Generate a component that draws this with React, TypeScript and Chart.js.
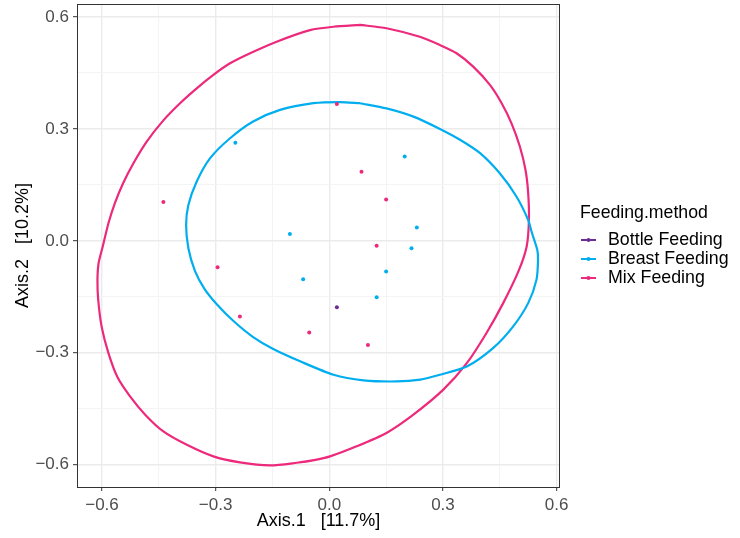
import React, { useEffect, useRef } from "react";
import { Chart, registerables } from "chart.js";

Chart.register(...registerables);

// ---------- data ----------
const groups = ["Bottle Feeding", "Breast Feeding", "Mix Feeding"];
const groupColors = ["#6B2D91", "#00AEEF", "#EC297B"];

const bottleX = [0.02];
const bottleY = [-0.178];

const breastX = [-0.248, -0.104, 0.199, 0.231, 0.217, -0.069, 0.15, 0.125];
const breastY = [0.263, 0.018, 0.226, 0.036, -0.02, -0.103, -0.082, -0.151];

const mixX = [-0.438, -0.295, -0.236, 0.02, 0.085, 0.15, 0.125, -0.053, 0.102];
const mixY = [0.104, -0.071, -0.203, 0.367, 0.185, 0.111, -0.013, -0.246, -0.279];

// ellipse outlines
const breastEllipseX = [0.081, 0.028, -0.042, -0.13, -0.201, -0.262, -0.315, -0.35, -0.372, -0.378, -0.372, -0.355, -0.33, -0.297, -0.253, -0.201, -0.148, -0.077, 0.011, 0.09, 0.178, 0.24, 0.292, 0.363, 0.433, 0.485, 0.525, 0.547, 0.551, 0.549, 0.535, 0.525, 0.494, 0.45, 0.398, 0.345, 0.292, 0.222, 0.151, 0.081];
const breastEllipseY = [0.369, 0.372, 0.369, 0.351, 0.32, 0.275, 0.221, 0.159, 0.096, 0.043, -0.02, -0.08, -0.128, -0.17, -0.215, -0.258, -0.29, -0.323, -0.359, -0.374, -0.377, -0.372, -0.359, -0.337, -0.287, -0.23, -0.167, -0.104, -0.051, -0.024, 0.021, 0.056, 0.119, 0.181, 0.235, 0.271, 0.3, 0.333, 0.355, 0.369];

const mixEllipseX = [0.081, 0.011, -0.051, -0.139, -0.209, -0.262, -0.306, -0.35, -0.394, -0.438, -0.482, -0.517, -0.544, -0.566, -0.583, -0.598, -0.609, -0.612, -0.61, -0.601, -0.583, -0.559, -0.526, -0.486, -0.438, -0.376, -0.306, -0.236, -0.156, -0.086, -0.04, 0.002, 0.072, 0.151, 0.222, 0.301, 0.363, 0.415, 0.459, 0.5, 0.521, 0.527, 0.525, 0.518, 0.503, 0.481, 0.455, 0.424, 0.38, 0.336, 0.292, 0.239, 0.151, 0.081];
const mixEllipseY = [0.579, 0.574, 0.565, 0.534, 0.503, 0.476, 0.445, 0.409, 0.369, 0.323, 0.266, 0.208, 0.155, 0.101, 0.047, -0.015, -0.06, -0.105, -0.158, -0.23, -0.301, -0.366, -0.417, -0.466, -0.511, -0.547, -0.578, -0.594, -0.602, -0.595, -0.588, -0.578, -0.551, -0.515, -0.466, -0.399, -0.328, -0.247, -0.167, -0.08, -0.015, 0.056, 0.128, 0.19, 0.253, 0.315, 0.369, 0.418, 0.467, 0.503, 0.525, 0.547, 0.57, 0.579];

const majorTicks = [-0.6, -0.3, 0, 0.3, 0.6];
const minorTicks = [-0.45, -0.15, 0.15, 0.45];
const xRange = [-0.666, 0.609];
const yRange = [-0.66, 0.635];

const xTitle = "Axis.1   [11.7%]";
const yTitle = "Axis.2   [10.2%]";
const legendTitle = "Feeding.method";

// ---------- helpers ----------
const FONT = "'Liberation Sans', Arial, Helvetica, sans-serif";
const toXY = (xs: number[], ys: number[]) => xs.map((x, i) => ({ x, y: ys[i] }));
const isMajor = (v: number) => majorTicks.some((m) => Math.abs(m - v) < 1e-6);
const fmt = (v: number) => {
  const s = (Math.abs(v) < 1e-9 ? 0 : v).toFixed(1);
  return s.replace("-", "\u2212");
};

const PANEL = { left: 77, right: 560, top: 4, bottom: 487 };

const decorPlugin = {
  id: "decor",
  afterDraw(chart: any) {
    const ctx = chart.ctx as CanvasRenderingContext2D;
    const ca = chart.chartArea;
    ctx.save();
    // panel border
    ctx.strokeStyle = "#333333";
    ctx.lineWidth = 1;
    ctx.strokeRect(ca.left + 0.5, ca.top + 0.5, ca.right - ca.left - 1, ca.bottom - ca.top);

    // axis titles
    ctx.fillStyle = "#000000";
    ctx.font = `18px ${FONT}`;
    ctx.textAlign = "center";
    ctx.textBaseline = "middle";
    ctx.fillText(xTitle, (ca.left + ca.right) / 2, 521);
    ctx.save();
    ctx.translate(23, (ca.top + ca.bottom) / 2);
    ctx.rotate(-Math.PI / 2);
    ctx.fillText(yTitle, 0, 0);
    ctx.restore();

    // legend
    ctx.textAlign = "left";
    ctx.font = `17.7px ${FONT}`;
    ctx.fillText(legendTitle, 580, 213);
    const ys = [240, 259, 278];
    groups.forEach((g, i) => {
      const y = ys[i];
      ctx.strokeStyle = groupColors[i];
      ctx.lineWidth = 2;
      ctx.beginPath();
      ctx.moveTo(581, y);
      ctx.lineTo(596, y);
      ctx.stroke();
      ctx.fillStyle = groupColors[i];
      ctx.beginPath();
      ctx.arc(588.5, y, 2, 0, Math.PI * 2);
      ctx.fill();
      ctx.fillStyle = "#000000";
      ctx.font = `17.8px ${FONT}`;
      ctx.fillText(g, 608, y);
    });
    ctx.restore();
  },
};

const axisCommon = (range: number[]) => ({
  type: "linear" as const,
  min: range[0],
  max: range[1],
  afterBuildTicks: (scale: any) => {
    scale.ticks = [...majorTicks, ...minorTicks].sort((a, b) => a - b).map((v) => ({ value: v }));
  },
  border: { display: false },
  grid: {
    color: (c: any) => (c.tick && isMajor(c.tick.value) ? "#EBEBEB" : "#F4F4F4"),
    lineWidth: (c: any) => (c.tick && isMajor(c.tick.value) ? 1.4 : 1),
    drawTicks: true,
    tickLength: 4,
    tickColor: (c: any) => (c.tick && isMajor(c.tick.value) ? "#333333" : "rgba(0,0,0,0)"),
    tickWidth: 1,
  },
  ticks: {
    autoSkip: false,
    maxRotation: 0,
    padding: 4,
    color: "#4D4D4D",
    font: { family: FONT, size: 17 },
    callback: (v: any) => (isMajor(Number(v)) ? fmt(Number(v)) : ""),
  },
});

const ellipseStyle = (color: string) => ({
  showLine: true,
  borderColor: color,
  borderWidth: 2.2,
  pointRadius: 0,
  pointHoverRadius: 0,
  tension: 0.25,
  fill: false,
});

export default function App() {
  const ref = useRef<HTMLCanvasElement | null>(null);

  useEffect(() => {
    document.body.style.margin = "0";
    if (!ref.current) return;
    const chart = new Chart(ref.current, {
      type: "scatter",
      data: {
        datasets: [
          {
            label: groups[0],
            data: toXY(bottleX, bottleY),
            backgroundColor: groupColors[0],
            pointRadius: 2,
            pointBorderWidth: 0,
          },
          {
            label: groups[1],
            data: toXY(breastX, breastY),
            backgroundColor: groupColors[1],
            pointRadius: 2,
            pointBorderWidth: 0,
          },
          {
            label: groups[2],
            data: toXY(mixX, mixY),
            backgroundColor: groupColors[2],
            pointRadius: 2,
            pointBorderWidth: 0,
          },
          {
            label: groups[1] + " ellipse",
            data: toXY(breastEllipseX, breastEllipseY),
            ...ellipseStyle(groupColors[1]),
          },
          {
            label: groups[2] + " ellipse",
            data: toXY(mixEllipseX, mixEllipseY),
            ...ellipseStyle(groupColors[2]),
          },
        ],
      },
      options: {
        animation: false,
        responsive: false,
        devicePixelRatio: 1,
        layout: { padding: { left: 0, right: 740 - PANEL.right, top: PANEL.top, bottom: 0 } },
        plugins: { legend: { display: false }, tooltip: { enabled: false } },
        scales: {
          x: {
            ...axisCommon(xRange),
            position: "bottom",
            afterFit: (s: any) => {
              s.height = 538 - PANEL.bottom;
              s.paddingLeft = 0;
              s.paddingRight = 0;
            },
          },
          y: {
            ...axisCommon(yRange),
            position: "left",
            afterFit: (s: any) => {
              s.width = PANEL.left;
              s.paddingTop = 0;
              s.paddingBottom = 0;
            },
          },
        },
      },
      plugins: [decorPlugin],
    });
    return () => chart.destroy();
  }, []);

  return (
    <div style={{ width: 740, height: 538, background: "#ffffff" }}>
      <canvas ref={ref} width={740} height={538} style={{ display: "block", width: 740, height: 538 }} />
    </div>
  );
}
